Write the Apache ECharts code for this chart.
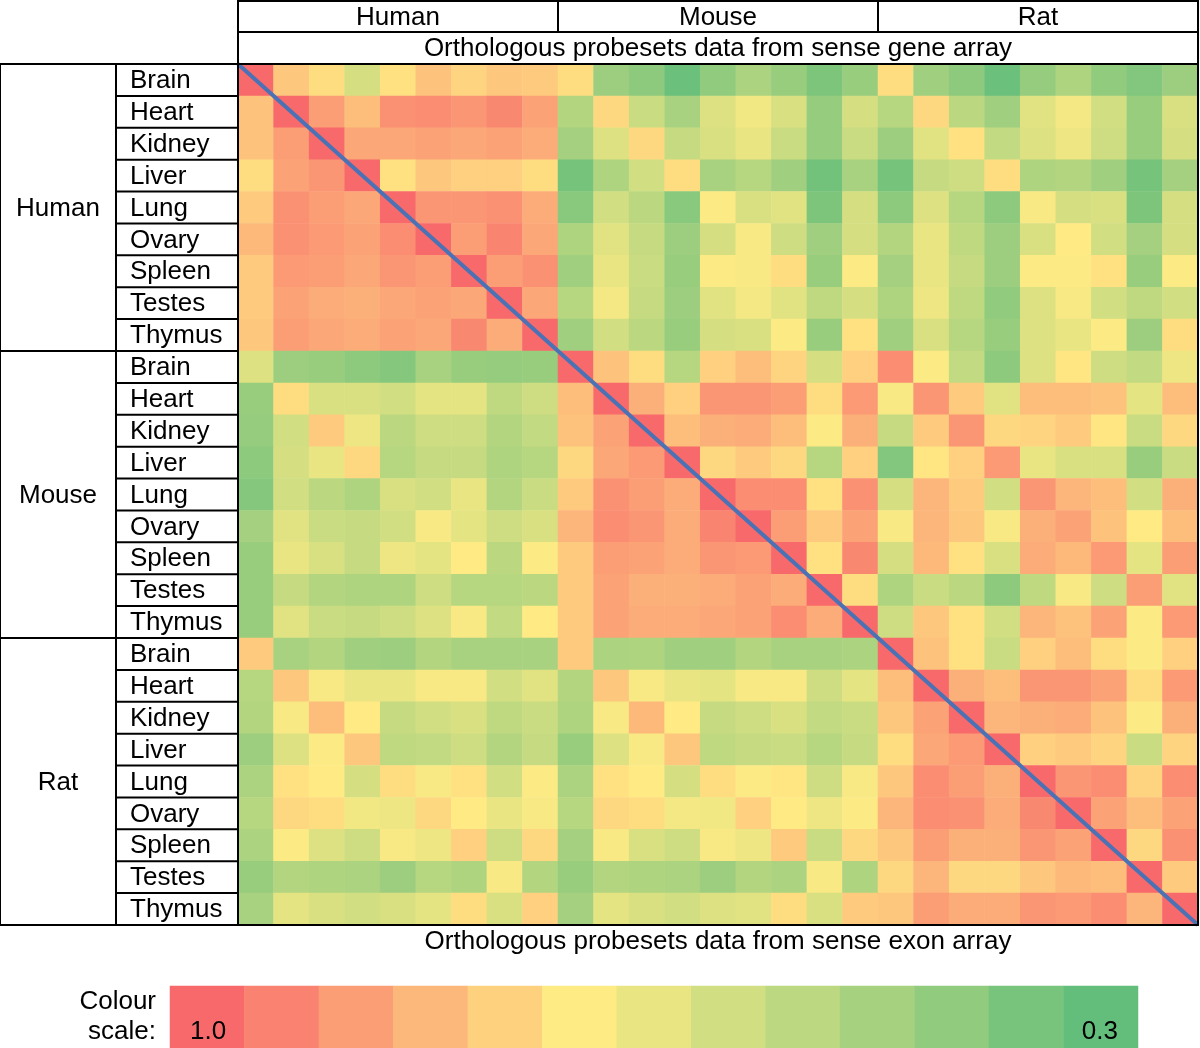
<!DOCTYPE html>
<html>
<head>
<meta charset="utf-8">
<script src="https://cdn.jsdelivr.net/npm/echarts@6/dist/echarts.min.js"></script>
<style>html,body{margin:0;padding:0;background:#fff}#chart{width:1200px;height:1048px}</style>
</head>
<body>
<div id="chart"></div>
<script>
// ---------- DATA ----------
const species = ['Human', 'Mouse', 'Rat'];
const tissues = ['Brain', 'Heart', 'Kidney', 'Liver', 'Lung', 'Ovary', 'Spleen', 'Testes', 'Thymus'];
const topTitle = 'Orthologous probesets data from sense gene array';
const bottomTitle = 'Orthologous probesets data from sense exon array';

// Rows: Human tissues; columns: Human(9) | Mouse(9) | Rat(9)
const humanRows = [
  [1.00,0.79,0.74,0.60,0.73,0.80,0.76,0.79,0.78, 0.74,0.45,0.41,0.32,0.42,0.49,0.44,0.37,0.44, 0.74,0.46,0.41,0.32,0.43,0.50,0.42,0.38,0.45],
  [0.80,1.00,0.88,0.81,0.91,0.92,0.90,0.93,0.87, 0.51,0.75,0.57,0.48,0.62,0.67,0.61,0.43,0.60, 0.52,0.75,0.53,0.46,0.63,0.68,0.59,0.44,0.61],
  [0.80,0.88,1.00,0.86,0.86,0.87,0.86,0.87,0.85, 0.47,0.62,0.75,0.56,0.61,0.65,0.57,0.43,0.57, 0.45,0.63,0.73,0.55,0.62,0.66,0.58,0.44,0.60],
  [0.74,0.87,0.90,1.00,0.73,0.79,0.77,0.77,0.74, 0.35,0.50,0.59,0.74,0.48,0.52,0.46,0.34,0.48, 0.35,0.56,0.58,0.74,0.50,0.51,0.46,0.35,0.47],
  [0.78,0.91,0.88,0.86,1.00,0.90,0.90,0.91,0.85, 0.40,0.59,0.53,0.40,0.70,0.61,0.63,0.37,0.60, 0.41,0.62,0.52,0.41,0.69,0.60,0.61,0.37,0.60],
  [0.82,0.91,0.89,0.87,0.92,1.00,0.88,0.94,0.86, 0.50,0.63,0.56,0.45,0.60,0.69,0.58,0.46,0.60, 0.51,0.65,0.54,0.45,0.61,0.71,0.59,0.47,0.60],
  [0.78,0.89,0.88,0.86,0.90,0.88,1.00,0.88,0.91, 0.46,0.65,0.57,0.44,0.70,0.69,0.74,0.44,0.70, 0.47,0.65,0.56,0.45,0.70,0.70,0.73,0.44,0.70],
  [0.78,0.87,0.85,0.84,0.86,0.87,0.86,1.00,0.86, 0.52,0.68,0.56,0.45,0.63,0.68,0.63,0.54,0.60, 0.50,0.66,0.54,0.42,0.62,0.69,0.59,0.54,0.59],
  [0.79,0.88,0.86,0.85,0.87,0.86,0.93,0.85,1.00, 0.46,0.59,0.53,0.44,0.60,0.61,0.70,0.44,0.73, 0.46,0.61,0.52,0.44,0.62,0.65,0.70,0.45,0.74]
];
const mouseRows = [
  [0.62,0.45,0.44,0.41,0.39,0.48,0.44,0.43,0.44, 1.00,0.80,0.74,0.52,0.77,0.81,0.76,0.60,0.77, 0.92,0.70,0.55,0.41,0.62,0.72,0.58,0.55,0.66],
  [0.44,0.74,0.61,0.61,0.59,0.64,0.64,0.54,0.58, 0.81,1.00,0.84,0.77,0.90,0.90,0.88,0.74,0.89, 0.69,0.90,0.78,0.63,0.81,0.81,0.80,0.64,0.81],
  [0.43,0.59,0.78,0.66,0.53,0.58,0.58,0.51,0.55, 0.80,0.87,1.00,0.81,0.84,0.85,0.81,0.70,0.84, 0.56,0.78,0.90,0.75,0.76,0.78,0.72,0.57,0.75],
  [0.41,0.60,0.65,0.75,0.52,0.56,0.56,0.50,0.52, 0.75,0.86,0.89,1.00,0.75,0.78,0.75,0.52,0.77, 0.38,0.72,0.77,0.89,0.65,0.61,0.61,0.44,0.57],
  [0.39,0.59,0.53,0.50,0.61,0.59,0.65,0.51,0.57, 0.78,0.91,0.88,0.85,1.00,0.92,0.92,0.73,0.91, 0.60,0.83,0.78,0.59,0.90,0.83,0.81,0.59,0.84],
  [0.47,0.63,0.57,0.56,0.59,0.69,0.64,0.58,0.61, 0.83,0.92,0.90,0.85,0.94,1.00,0.88,0.78,0.87, 0.69,0.83,0.79,0.69,0.84,0.87,0.80,0.71,0.81],
  [0.44,0.65,0.61,0.56,0.66,0.64,0.71,0.53,0.70, 0.78,0.88,0.87,0.85,0.90,0.89,1.00,0.73,0.93, 0.60,0.82,0.73,0.61,0.85,0.82,0.89,0.64,0.88],
  [0.44,0.56,0.51,0.50,0.50,0.58,0.52,0.52,0.53, 0.78,0.87,0.84,0.84,0.85,0.87,0.85,1.00,0.74, 0.50,0.57,0.53,0.41,0.54,0.69,0.58,0.88,0.63],
  [0.44,0.63,0.57,0.56,0.58,0.62,0.69,0.55,0.71, 0.78,0.87,0.85,0.85,0.86,0.87,0.92,0.85,1.00, 0.58,0.79,0.73,0.59,0.83,0.80,0.87,0.70,0.89]
];
const ratRows = [
  [0.78,0.48,0.51,0.46,0.45,0.51,0.48,0.48,0.48, 0.78,0.49,0.50,0.46,0.46,0.51,0.48,0.48,0.49, 1.00,0.80,0.73,0.57,0.77,0.81,0.74,0.70,0.77],
  [0.52,0.79,0.69,0.65,0.65,0.69,0.69,0.59,0.63, 0.51,0.79,0.69,0.65,0.64,0.69,0.69,0.58,0.64, 0.81,1.00,0.84,0.81,0.90,0.90,0.87,0.74,0.89],
  [0.51,0.69,0.81,0.71,0.56,0.59,0.61,0.54,0.57, 0.50,0.69,0.82,0.71,0.56,0.58,0.61,0.55,0.57, 0.79,0.87,1.00,0.83,0.84,0.85,0.80,0.70,0.84],
  [0.45,0.62,0.70,0.79,0.54,0.55,0.58,0.51,0.56, 0.44,0.62,0.69,0.79,0.54,0.56,0.57,0.52,0.56, 0.74,0.86,0.89,1.00,0.77,0.78,0.76,0.57,0.76],
  [0.49,0.73,0.71,0.60,0.74,0.69,0.73,0.59,0.70, 0.49,0.73,0.71,0.60,0.74,0.70,0.72,0.58,0.69, 0.79,0.92,0.88,0.84,1.00,0.90,0.92,0.76,0.92],
  [0.52,0.75,0.74,0.67,0.66,0.75,0.71,0.65,0.69, 0.52,0.75,0.74,0.68,0.67,0.77,0.71,0.66,0.70, 0.83,0.92,0.91,0.85,0.93,1.00,0.87,0.81,0.87],
  [0.49,0.70,0.62,0.58,0.69,0.66,0.77,0.58,0.75, 0.47,0.69,0.61,0.58,0.69,0.66,0.78,0.57,0.75, 0.79,0.88,0.84,0.84,0.90,0.87,1.00,0.75,0.91],
  [0.44,0.51,0.50,0.49,0.45,0.52,0.50,0.69,0.51, 0.44,0.51,0.50,0.49,0.45,0.51,0.49,0.69,0.50, 0.75,0.83,0.75,0.75,0.79,0.82,0.81,1.00,0.78],
  [0.48,0.64,0.61,0.59,0.61,0.64,0.74,0.61,0.77, 0.47,0.64,0.61,0.59,0.62,0.63,0.74,0.61,0.78, 0.79,0.88,0.85,0.85,0.90,0.89,0.92,0.83,1.00]
];

// Colour scale legend (13 steps from 1.0 down to 0.3)
const scaleValues = [1.0, 0.9417, 0.8833, 0.825, 0.7667, 0.7083, 0.65, 0.5917, 0.5333, 0.475, 0.4167, 0.3583, 0.3];
const scaleLabels = ['1.0', '0.3'];
const scaleMin = 0.3, scaleMax = 1.0;
const scaleColors = ['#63BE7B','#79C47C','#90CB7E','#A6D17F','#BCD880','#D2DE82','#E9E583',
                     '#FFEB84','#FED17F','#FCB77A','#FB9D75','#F98370','#F8696B'];

// ---------- BUILD ----------
const rowsAll = humanRows.concat(mouseRows, ratRows);
const labelsAll = [];
species.forEach(s => tissues.forEach(t => labelsAll.push(s + ' ' + t)));
const N = labelsAll.length;
const heatData = [];
rowsAll.forEach((row, r) => row.forEach((v, c) => heatData.push([c, r, v])));
const scaleCats = scaleValues.map((v, i) => 's' + i);
const scaleData = scaleValues.map((v, i) => [i, 0, v]);

const G = {left: 238, top: 64, width: 960, height: 861};
const cw = G.width / N, rh = G.height / N;
const FONT = '26px "Liberation Sans", Arial, sans-serif';
const LW = 2;
const gfx = [];
function line(x1, y1, x2, y2) {
  gfx.push({type: 'line', shape: {x1, y1, x2, y2}, style: {stroke: '#000', lineWidth: LW}, z: 100});
}
function rect(x, y, w, h) {
  gfx.push({type: 'rect', shape: {x, y, width: w, height: h}, style: {fill: 'none', stroke: '#000', lineWidth: LW}, z: 100});
}
function text(str, x, y, align) {
  gfx.push({type: 'text', x, y, z: 101,
    style: {text: str, font: FONT, fill: '#000', align: align || 'center', verticalAlign: 'middle',
            textAlign: align || 'center', textVerticalAlign: 'middle'}});
}
const nT = tissues.length;
const headTop = 1, headMid = 32;
// top header
rect(G.left, headTop, G.width, G.top - headTop);
line(G.left, headMid, G.left + G.width, headMid);
species.forEach((s, i) => {
  const x0 = G.left + i * nT * cw;
  if (i > 0) line(x0, headTop, x0, headMid);
  text(s, x0 + nT * cw / 2, (headTop + headMid) / 2 + 1);
});
text(topTitle, G.left + G.width / 2, (headMid + G.top) / 2 + 1);
// left labels
const spW = 116;
rect(0, G.top, G.left, G.height);
line(spW, G.top, spW, G.top + G.height);
species.forEach((s, i) => {
  const y0 = G.top + i * nT * rh;
  if (i > 0) line(0, y0, G.left, y0);
  text(s, spW / 2, y0 + nT * rh / 2 + 1);
  tissues.forEach((t, j) => {
    const y = y0 + j * rh;
    if (j > 0) line(spW, y, G.left, y);
    text(t, spW + 14, y + rh / 2 + 1, 'left');
  });
});
// heatmap frame
rect(G.left, G.top, G.width, G.height);
text(bottomTitle, G.left + G.width / 2, 942);
// colour scale
const S = {left: 170, top: 986, width: 968, height: 62};
text('Colour', 156, 1002, 'right');
text('scale:', 156, 1032, 'right');
text(scaleLabels[0], S.left + 20, 1032, 'left');
text(scaleLabels[1], S.left + S.width - 20, 1032, 'right');

const chart = echarts.init(document.getElementById('chart'), null, {renderer: 'canvas'});
chart.setOption({
  animation: false,
  backgroundColor: '#fff',
  grid: [
    {left: G.left, top: G.top, width: G.width, height: G.height},
    {left: S.left, top: S.top, width: S.width, height: S.height}
  ],
  xAxis: [
    {type: 'category', gridIndex: 0, data: labelsAll, show: false},
    {type: 'value', gridIndex: 0, min: 0, max: N, show: false},
    {type: 'category', gridIndex: 1, data: scaleCats, show: false}
  ],
  yAxis: [
    {type: 'category', gridIndex: 0, data: labelsAll, inverse: true, show: false},
    {type: 'value', gridIndex: 0, min: 0, max: N, inverse: true, show: false},
    {type: 'category', gridIndex: 1, data: ['scale'], show: false}
  ],
  visualMap: {
    type: 'continuous', min: scaleMin, max: scaleMax, show: false, seriesIndex: [0, 2],
    inRange: {color: scaleColors}
  },
  series: [
    {type: 'heatmap', xAxisIndex: 0, yAxisIndex: 0, data: heatData, itemStyle: {borderWidth: 0}},
    {type: 'line', xAxisIndex: 1, yAxisIndex: 1, data: [[0, 0], [N, N]], symbol: 'none',
     lineStyle: {color: '#4A72B5', width: 4}, z: 50, silent: true},
    {type: 'heatmap', xAxisIndex: 2, yAxisIndex: 2, data: scaleData, itemStyle: {borderWidth: 0}}
  ],
  graphic: {elements: gfx}
});
</script>
</body>
</html>
